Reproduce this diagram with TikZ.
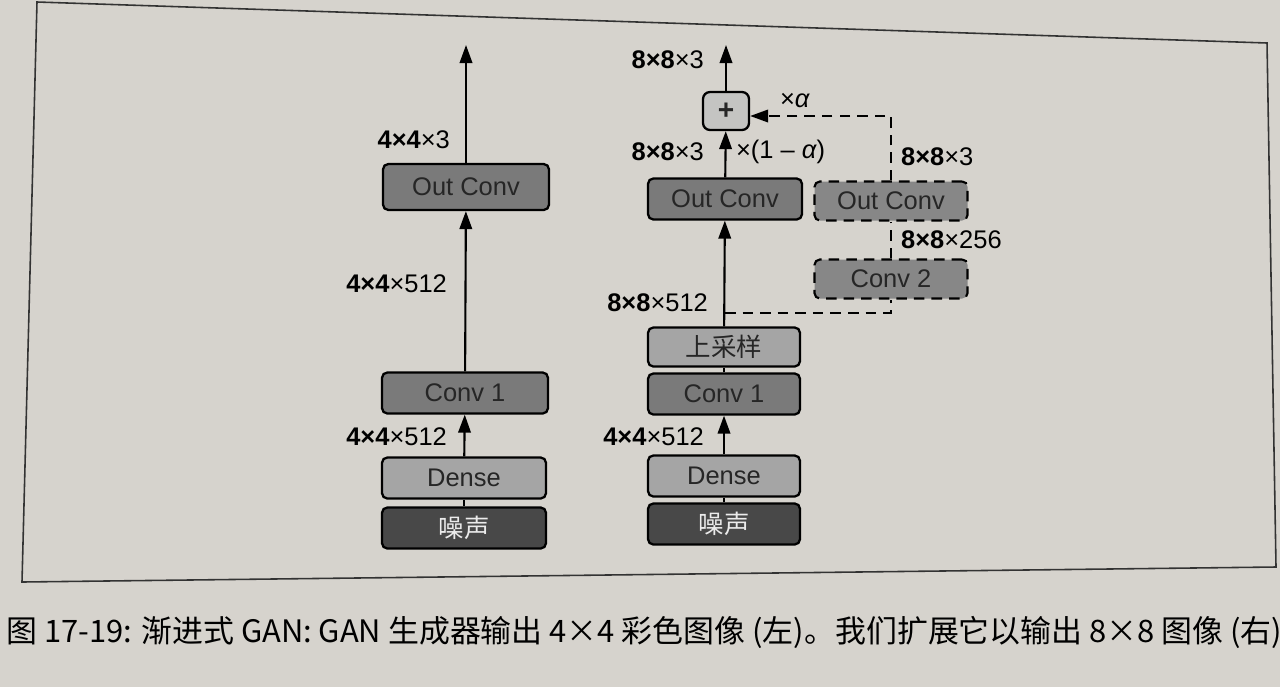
\documentclass[tikz,border=0pt]{standalone}
\usepackage{fontspec}
\setmainfont{Liberation Sans}
\newfontfamily\cjk{Noto Sans CJK SC}
\usetikzlibrary{positioning,arrows.meta}
\definecolor{paper}{RGB}{214,211,205}
\definecolor{midgrey}{RGB}{122,122,122}
\definecolor{lightgrey}{RGB}{165,165,165}
\definecolor{darkgrey}{RGB}{72,72,72}
\definecolor{plusgrey}{RGB}{196,196,194}

\tikzset{
  layer/.style={draw=black, line width=1.3pt, rounded corners=3pt, minimum height=0.82cm, font=\fontsize{14.5}{15}\selectfont, text=black!85},
  dimlabel/.style={font=\fontsize{14.5}{15}\selectfont, inner sep=1pt},
  flow/.style={line width=1.2pt, -{Triangle[length=0.36cm,width=0.25cm]}},
  skip/.style={line width=1.2pt, dashed, dash pattern=on 6pt off 4pt}
}

\begin{document}
\begin{tikzpicture}[x=0.02cm, y=-0.02cm]
\fill[paper] (0,0) rectangle (1280,687);
\useasboundingbox (0,0) rectangle (1280,687);

% figure frame
\draw[line width=0.9pt, black!80] (37,2) -- (1267,43) -- (1276,567) -- (22,582) -- cycle;

% Nodes in left column
\node[layer, fill=darkgrey, minimum width=3.28cm, text=white!92!black] (noiseL) at (464,528) {\cjk 噪声};
\node[layer, fill=lightgrey, minimum width=3.28cm] (denseL) at (464,478) {Dense};
\node[layer, fill=midgrey, minimum width=3.32cm] (convL) at (465,393) {Conv 1};
\node[layer, fill=midgrey, minimum width=3.32cm, minimum height=0.92cm] (outL) at (466,187) {Out Conv};
\coordinate (topL) at (466,45);

% Nodes in right column
\node[layer, fill=darkgrey, minimum width=3.04cm, text=white!92!black] (noiseR) at (724,524) {\cjk 噪声};
\node[layer, fill=lightgrey, minimum width=3.04cm] (denseR) at (724,476) {Dense};
\node[layer, fill=midgrey, minimum width=3.04cm] (convR) at (724,394) {Conv 1};
\node[layer, fill=lightgrey, minimum width=3.04cm, minimum height=0.78cm] (upR) at (724,347) {\cjk 上采样};
\node[layer, fill=midgrey, minimum width=3.08cm] (outR) at (725,199) {Out Conv};
\node[layer, fill=plusgrey, minimum width=0.92cm, minimum height=0.76cm, rounded corners=4pt, font=\fontsize{16}{16}\selectfont\bfseries] (plus) at (726,111) {+};
\coordinate (topR) at (726,45);

% New branch (dashed)
\node[layer, skip, fill=midgrey!90!white, minimum width=3.06cm, minimum height=0.78cm] (conv2) at (891,279) {Conv 2};
\node[layer, skip, fill=midgrey!90!white, minimum width=3.06cm, minimum height=0.78cm] (out2) at (891,201) {Out Conv};
\coordinate (split) at (725,313);
\coordinate (turn1) at (891,313);
\coordinate (turn2) at (891,116);

% Edges, left
\draw[line width=1.2pt] (noiseL) -- (denseL);
\draw[flow] (denseL) -- (convL);
\draw[flow] (convL) -- (outL);
\draw[flow] (outL) -- (topL);

% Edges, right
\draw[line width=1.2pt] (noiseR) -- (denseR);
\draw[flow] (denseR) -- (convR);
\draw[line width=1.2pt] (convR) -- (upR);
\draw[flow] (upR) -- (outR);
\draw[flow] (outR) -- (plus);
\draw[flow] (plus) -- (topR);
\draw[skip] (split) -- (turn1) -- (conv2.south);
\draw[skip] (conv2) -- (out2);
\draw[skip, -{Triangle[length=0.36cm,width=0.25cm]}] (out2.north) -- (turn2) -- (plus.east |- turn2);

% Shape labels
\node[dimlabel, anchor=east] (dimL1) at (452,140) {\textbf{4×4}×3};
\node[dimlabel, anchor=east] (dimL2) at (449,284) {\textbf{4×4}×512};
\node[dimlabel, anchor=east] (dimL3) at (449,437) {\textbf{4×4}×512};
\node[dimlabel, anchor=east] (dimR1) at (706,60) {\textbf{8×8}×3};
\node[dimlabel, anchor=east] (dimR2) at (706,152) {\textbf{8×8}×3};
\node[dimlabel, anchor=west] (wR2) at (734,152) {×(1 – {\itshape α})};
\node[dimlabel, anchor=east] (dimR3) at (710,303) {\textbf{8×8}×512};
\node[dimlabel, anchor=east] (dimR4) at (706,437) {\textbf{4×4}×512};
\node[dimlabel, anchor=west] (wa) at (778,101) {×{\itshape α}};
\node[dimlabel, anchor=west] (dim21) at (899,157) {\textbf{8×8}×3};
\node[dimlabel, anchor=west] (dim22) at (899,240) {\textbf{8×8}×256};

% caption
\node[anchor=west, inner sep=0pt, font=\fontsize{17.6}{18}\cjk] (cap) at (6,632) {图 17-19: 渐进式 GAN: GAN 生成器输出 4×4 彩色图像 (左)。我们扩展它以输出 8×8 图像 (右)};
\end{tikzpicture}
\end{document}
